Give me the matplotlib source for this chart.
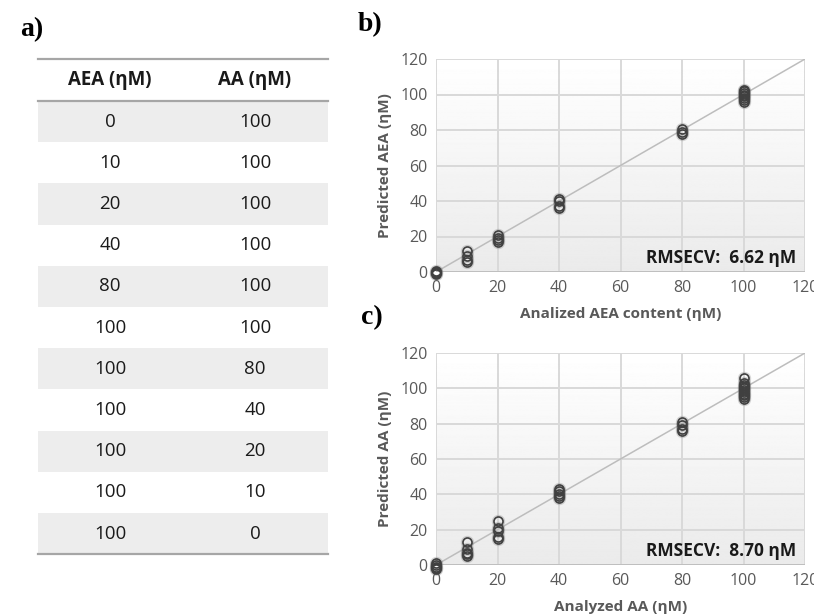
import matplotlib
matplotlib.use("Agg")
import matplotlib.pyplot as plt
from matplotlib.patches import Rectangle
import numpy as np

plt.rcParams["font.family"] = ["Open Sans", "DejaVu Sans"]

# table a)
table_headers = ["AEA (ηM)", "AA (ηM)"]
table_aea = [0, 10, 20, 40, 80, 100, 100, 100, 100, 100, 100]
table_aa = [100, 100, 100, 100, 100, 100, 80, 40, 20, 10, 0]

# panel b) AEA
aea_actual = [0, 0, 0, 0,
              10, 10, 10, 10,
              20, 20, 20, 20,
              40, 40, 40, 40,
              80, 80, 80,
              100, 100, 100, 100, 100, 100, 100, 100]
aea_pred = [-1, -0.5, 0, 0.5,
            5.5, 7, 9, 12,
            17, 18, 19, 21,
            36, 37, 40, 41,
            78, 79, 80.5,
            96, 97, 98, 99, 100, 101, 102, 102.5]
aea_rmse = "RMSECV:  6.62 ηM"

# panel c) AA
aa_actual = [0, 0, 0, 0, 0,
             10, 10, 10, 10, 10,
             20, 20, 20, 20, 20,
             40, 40, 40, 40, 40,
             80, 80, 80, 80,
             100, 100, 100, 100, 100, 100, 100, 100, 100, 100, 100]
aa_pred = [-2, -1.5, -1, 0, 1,
           5, 6, 7, 9, 13,
           15, 16, 19, 21, 25,
           38, 39, 40, 42, 43,
           76, 77, 79, 81,
           94, 95, 96, 97, 98, 99, 100, 101, 102, 103, 106]
aa_rmse = "RMSECV:  8.70 ηM"

ticks = [0, 20, 40, 60, 80, 100, 120]

W, H = 814, 614
fig = plt.figure(figsize=(W / 100, H / 100), dpi=100)

# ---- table, drawn in pixel coords ----
tab = fig.add_axes([0, 0, 1, 1])
tab.set_xlim(0, W)
tab.set_ylim(H, 0)
tab.axis("off")

left, right = 38, 328
top, head_bot = 59, 101
row_h = 41.2
col_x = [110, 255]

for i in range(len(table_aea)):
    y0 = head_bot + i * row_h
    if i % 2 == 0:
        tab.add_patch(Rectangle((left, y0), right - left, row_h, color="#ededed", lw=0, zorder=1))
    yc = y0 + row_h / 2
    tab.text(col_x[0], yc, str(table_aea[i]), ha="center", va="center", fontsize=13.5, color="#1a1a1a", zorder=3)
    tab.text(col_x[1], yc, str(table_aa[i]), ha="center", va="center", fontsize=13.5, color="#1a1a1a", zorder=3)

for j, h in enumerate(table_headers):
    tab.text(col_x[j], (top + head_bot) / 2, h, ha="center", va="center", fontsize=13.5,
             fontweight="bold", color="#1a1a1a")

bottom = head_bot + len(table_aea) * row_h
for yy in [top, head_bot, bottom]:
    tab.plot([left, right], [yy, yy], color="#a6a6a6", lw=1.6, zorder=4)

for lab, x, y in [("a)", 20, 30), ("b)", 358, 25), ("c)", 361, 318)]:
    tab.text(x, y, lab, ha="left", va="center", fontsize=20, fontweight="bold",
             family=["Liberation Serif", "DejaVu Serif"], color="black")


def scatter_panel(rect, xs, ys, xlabel, ylabel, note):
    ax = fig.add_axes(rect)
    ax.set_xlim(0, 120)
    ax.set_ylim(0, 120)
    grad = np.linspace(0.92, 1.0, 256).reshape(-1, 1)
    ax.imshow(grad, extent=(0, 120, 0, 120), cmap="gray", vmin=0, vmax=1,
              aspect="auto", origin="lower", zorder=0)
    for t in ticks:
        ax.axvline(t, color="#d9d9d9", lw=1.4, zorder=1)
        ax.axhline(t, color="#d9d9d9", lw=1.4, zorder=1)
    ax.axhline(0, color="#bfbfbf", lw=1.4, zorder=1)
    for s in ax.spines.values():
        s.set_visible(False)
    ax.plot([0, 120], [0, 120], color="#bdbdbd", lw=1.1, zorder=2)
    # soft shadow + open markers
    ax.plot(xs, ys, "o", ms=8, mfc="none", mec="#666666", mew=1.6, alpha=0.25,
            zorder=3, clip_on=False)
    ax.plot(xs, ys, "o", ms=6.5, mfc="none", mec="#404040", mew=1.2,
            zorder=4, clip_on=False)
    ax.set_xticks(ticks)
    ax.set_yticks(ticks)
    ax.tick_params(length=0, labelsize=11.5, labelcolor="#595959", pad=6)
    ax.set_xlabel(xlabel, fontsize=11, fontweight="bold", color="#595959", labelpad=8)
    ax.set_ylabel(ylabel, fontsize=11, fontweight="bold", color="#595959", labelpad=6)
    ax.text(0.975, 0.065, note, transform=ax.transAxes, ha="right", va="center",
            fontsize=12.5, fontweight="bold", color="#1a1a1a", zorder=5)
    return ax


ax_l, ax_r = 436, 805
scatter_panel([ax_l / W, 1 - 272 / H, (ax_r - ax_l) / W, (272 - 59) / H],
              aea_actual, aea_pred, "Analized AEA content (ηM)", "Predicted AEA (ηM)", aea_rmse)
scatter_panel([ax_l / W, 1 - 565 / H, (ax_r - ax_l) / W, (565 - 353) / H],
              aa_actual, aa_pred, "Analyzed AA (ηM)", "Predicted AA (ηM)", aa_rmse)

fig.savefig("out.png", dpi=100)
